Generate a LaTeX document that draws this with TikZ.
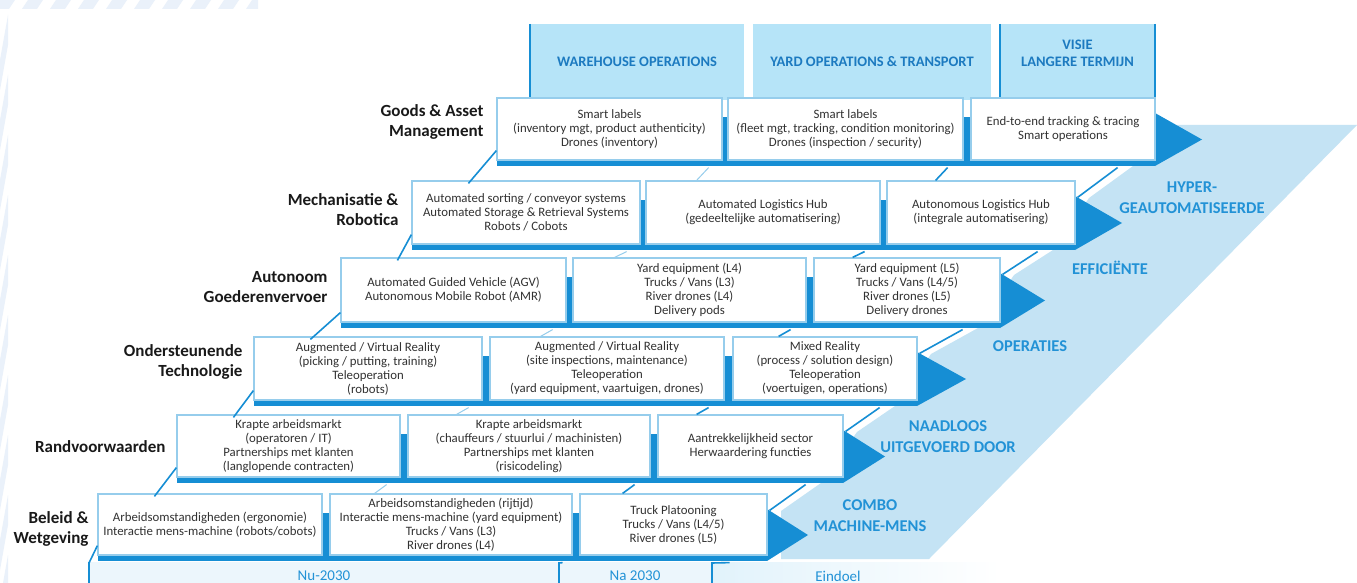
\documentclass[tikz,border=0pt]{standalone}
\usepackage{fontspec}
\setmainfont{Carlito}
\usetikzlibrary{calc}
\definecolor{darkb}{RGB}{22,142,212}
\definecolor{boxb}{RGB}{150,205,236}
\definecolor{tabf}{RGB}{182,228,248}
\definecolor{lightreg}{RGB}{196,227,244}
\definecolor{headc}{RGB}{28,122,192}
\definecolor{rlabc}{RGB}{34,146,214}
\definecolor{botf}{RGB}{236,246,252}
\definecolor{boxt}{RGB}{50,50,50}
\definecolor{labc}{RGB}{25,25,25}
\definecolor{stripe}{RGB}{234,241,250}
\newcommand{\shelfbase}[9]{%
  \fill[darkb] (#4,#1+19) rectangle (#5,#2);
  \fill[darkb] (#6,#1+19) rectangle (#7,#2);
  \fill[darkb] (#3,#2) rectangle (#8,#2+6);
  \fill[darkb] (#8,#1+15) -- (#9,{(#1+#2+21)/2}) -- (#8,#2+6) -- cycle;
}
\newcommand{\cell}[6]{%
  \node[cellbox, minimum width={#3-#2}, minimum height={#5-#4}] (#1) at ({(#2+#3)/2},{(#4+#5)/2}) {#6};
}
\begin{document}
\begin{tikzpicture}[x=1pt,y=-1pt,
  cellbox/.style={draw=boxb, line width=1.2pt, fill=white, align=center, text=boxt,
    font=\fontsize{12.8}{14}\selectfont, inner sep=0pt},
  lab/.style={anchor=east, align=right, text=labc, font=\bfseries\fontsize{17}{20}\selectfont},
  tab/.style={fill=tabf, align=center, text=headc, font=\bfseries\fontsize{14.5}{17}\selectfont, inner sep=0pt},
  rlab/.style={text=rlabc, align=center, font=\bfseries\fontsize{16.5}{21}\selectfont},
  btxt/.style={text=rlabc, font=\fontsize{15}{18}\selectfont},
  rowline/.style={draw=darkb, line width=1.6pt},
  faintline/.style={draw=boxb, line width=1pt}]
\useasboundingbox (0,0) rectangle (1357,583);
\fill[white] (0,0) rectangle (1357,583);
% background stripes
\begin{scope}
\clip (0,0) rectangle (258,9);
\foreach \i in {0,...,10} \fill[stripe] ({\i*28},0) -- ({\i*28+15},0) -- ({\i*28+9},9) -- ({\i*28-6},9) -- cycle;
\end{scope}
\begin{scope}
\clip (0,15) rectangle (8,583);
\foreach \j in {0,...,9} \fill[stripe] (0,{15+\j*60+45}) -- (8,{15+\j*60}) -- (8,{15+\j*60+30}) -- (0,{15+\j*60+75}) -- cycle;
\end{scope}
% light region
\fill[lightreg] (1160,125) -- (1357,125) -- (929,559) -- (781,559) -- (781,511) -- (821,483)
  -- (857,432) -- (895,406) -- (931,354) -- (978,328) -- (1014,275) -- (1053,250)
  -- (1089,198) -- (1133,166) -- cycle;
% bottom band
\fill[botf] (89,562) rectangle (712,583);
\shade[left color=botf!80!tabf, right color=white] (712,562) rectangle (1000,583);
\draw[rowline] (89,562) -- (89,583);
\draw[rowline] (559,562) -- (559,583);
\draw[rowline] (712,562) -- (712,583);
\node[btxt] (nu) at (324,576) {Nu-2030};
\node[btxt] (na) at (635,576) {Na 2030};
\node[btxt] (ed) at (838,576) {Eindoel};
% header tabs
\node[tab, minimum width=214, minimum height=76] (h1) at (637,62) {WAREHOUSE OPERATIONS};
\node[tab, minimum width=238, minimum height=76] (h2) at (872,62) {YARD OPERATIONS \& TRANSPORT};
\node[tab, minimum width=155, minimum height=76] (h3) at (1077.5,62) {};
\node[text=headc, font=\bfseries\fontsize{14.5}{17}\selectfont, align=center] (h3t) at (1077.5,53) {VISIE\\LANGERE TERMIJN};
\draw[darkb, line width=2.5pt] (h1.north west) -- (h1.south west);
\draw[darkb, line width=2.5pt] (h3.north west) -- (h3.south west);
\draw[darkb, line width=2.5pt] (h3.north east) -- ++(0,89);
% rows
\shelfbase{98}{160}{497}{722}{728}{963}{971}{1155}{1202}
\cell{r1a}{497}{722}{98}{160}{Smart labels\\(inventory mgt, product authenticity)\\Drones (inventory)}
\cell{r1b}{728}{963}{98}{160}{Smart labels\\(fleet mgt, tracking, condition monitoring)\\Drones (inspection / security)}
\cell{r1c}{971}{1155}{98}{160}{End-to-end tracking \& tracing\\Smart operations}
\shelfbase{181}{244}{412}{640}{646}{880}{887}{1075}{1122}
\cell{r2a}{412}{640}{181}{244}{Automated sorting / conveyor systems\\Automated Storage \& Retrieval Systems\\Robots / Cobots}
\cell{r2b}{646}{880}{181}{244}{Automated Logistics Hub\\(gedeeltelijke automatisering)}
\cell{r2c}{887}{1075}{181}{244}{Autonomous Logistics Hub\\(integrale automatisering)}
\shelfbase{258}{322}{341}{566}{573}{806}{814}{1000}{1045}
\cell{r3a}{341}{566}{258}{322}{Automated Guided Vehicle (AGV)\\Autonomous Mobile Robot (AMR)}
\cell{r3b}{573}{806}{258}{322}{Yard equipment (L4)\\Trucks / Vans (L3)\\River drones (L4)\\Delivery pods}
\cell{r3c}{814}{1000}{258}{322}{Yard equipment (L5)\\Trucks / Vans (L4/5)\\River drones (L5)\\Delivery drones}
\shelfbase{337}{400}{254}{482}{490}{724}{733}{917}{966}
\cell{r4a}{254}{482}{337}{400}{Augmented / Virtual Reality\\(picking / putting, training)\\Teleoperation\\(robots)}
\cell{r4b}{490}{724}{337}{400}{Augmented / Virtual Reality\\(site inspections, maintenance)\\Teleoperation\\(yard equipment, vaartuigen, drones)}
\cell{r4c}{733}{917}{337}{400}{Mixed Reality\\(process / solution design)\\Teleoperation\\(voertuigen, operations)}
\shelfbase{415}{477}{177}{400}{408}{650}{658}{843}{885}
\cell{r5a}{177}{400}{415}{477}{Krapte arbeidsmarkt\\(operatoren / IT)\\Partnerships met klanten\\(langlopende contracten)}
\cell{r5b}{408}{650}{415}{477}{Krapte arbeidsmarkt\\(chauffeurs / stuurlui / machinisten)\\Partnerships met klanten\\(risicodeling)}
\cell{r5c}{658}{843}{415}{477}{Aantrekkelijkheid sector\\Herwaardering functies}
\shelfbase{494}{555}{98}{322}{330}{572}{580}{767}{808}
\cell{r6a}{98}{322}{494}{555}{Arbeidsomstandigheden (ergonomie)\\Interactie mens-machine (robots/cobots)}
\cell{r6b}{330}{572}{494}{555}{Arbeidsomstandigheden (rijtijd)\\Interactie mens-machine (yard equipment)\\Trucks / Vans (L3)\\River drones (L4)}
\cell{r6c}{580}{767}{494}{555}{Truck Platooning\\Trucks / Vans (L4/5)\\River drones (L5)}
% links between rows
\foreach \u/\l in {1/2,2/3,3/4,4/5,5/6}{
  \draw[rowline] ([yshift=10pt]r\u a.south west) -- ([xshift=57pt,yshift=-3pt]r\l a.north west);
  \draw[faintline] ($(r\u a.south east)+(-14,7)$) -- ($(r\u a.south east |- r\l a.north)+(-26,0)$);
  \draw[rowline] ($(r\u b.south east)+(-16,7)$) -- ($(r\u b.south east |- r\l b.north)+(-28,0)$);
  \draw[rowline] ($(r\u c.south east)+(-38,7)$) -- ($(r\l c.north east)+(2,17)$);
}
\draw[rowline] ([yshift=10pt]r6a.south west) -- (89,563);
\draw[rowline] ($(r6b.south east)+(-10,7)$) -- (559,563);
\draw[rowline] ($(r6c.south east)+(-38,7)$) -- (712,563);
% row labels
\node[lab] (l1) at (487,122) {Goods \& Asset\\Management};
\node[lab] (l2) at (402,210) {Mechanisatie \&\\Robotica};
\node[lab] (l3) at (331,287) {Autonoom\\Goederenvervoer};
\node[lab] (l4) at (246,362) {Ondersteunende\\Technologie};
\node[lab] (l5) at (169,447) {Randvoorwaarden};
\node[lab] (l6) at (92,529) {Beleid \&\\Wetgeving};
% right labels
\node[rlab] (t1) at (1192,198) {HYPER-\\GEAUTOMATISEERDE};
\node[rlab] (t2) at (1110,268) {EFFICIËNTE};
\node[rlab] (t3) at (1030,346) {OPERATIES};
\node[rlab] (t4) at (948,437) {NAADLOOS\\UITGEVOERD DOOR};
\node[rlab] (t5) at (870,516) {COMBO\\MACHINE-MENS};
\end{tikzpicture}
\end{document}
